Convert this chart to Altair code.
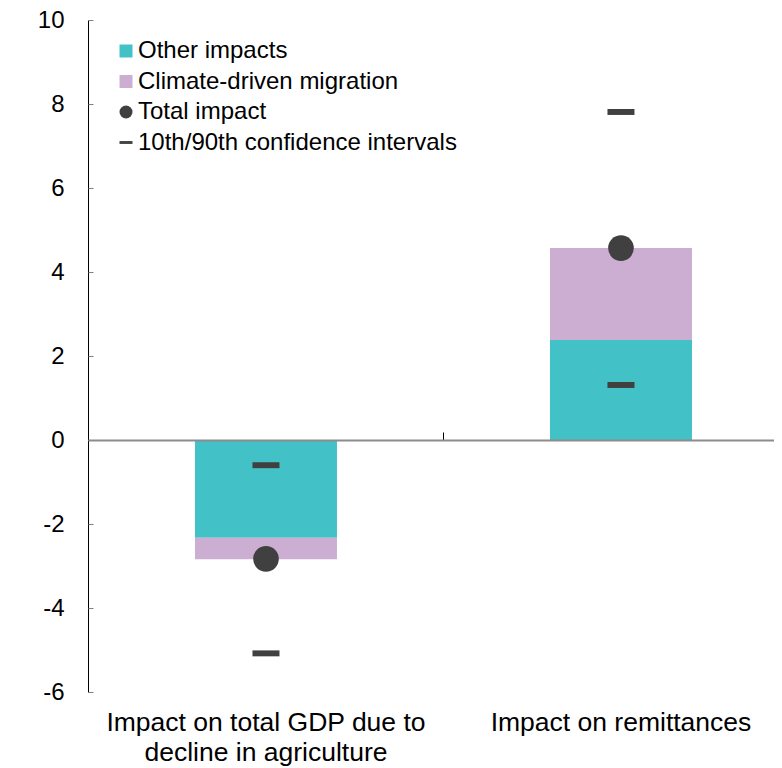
import altair as alt
import pandas as pd

# ---- data ----
categories = ["Impact on total GDP due to\ndecline in agriculture", "Impact on remittances"]
series_names = ["Other impacts", "Climate-driven migration", "Total impact",
                "10th/90th confidence intervals"]
series_colors = ["#42C1C6", "#CDAED3", "#404040", "#404040"]
other_impacts = [-2.33, 2.38]
climate_migration = [-0.51, 2.19]
total_impact = [-2.83, 4.57]
ci_low = [-5.08, 1.31]
ci_high = [-0.60, 7.81]
y_ticks = [-6, -4, -2, 0, 2, 4, 6, 8, 10]

DASH = "M-1,-0.22H1V0.22H-1Z"
series_shapes = ["square", "square", "circle", DASH]

bars = pd.DataFrame({
    "category": categories * 2,
    "series": [series_names[0]] * 2 + [series_names[1]] * 2,
    "value": other_impacts + climate_migration,
    "stack": [0, 0, 1, 1],
})
totals = pd.DataFrame({"category": categories, "series": series_names[2], "value": total_impact})
cis = pd.DataFrame({"category": categories * 2, "series": series_names[3],
                    "value": ci_low + ci_high})

FONT = "Liberation Sans"
W, H = 686, 672

x_scale = alt.Scale(domain=categories, paddingInner=0.6, paddingOuter=0.2662, align=0.566)
y_scale = alt.Scale(domain=[-6, 10], nice=False, zero=False)

legend = alt.Legend(title=None, orient="none", legendX=26, legendY=19, labelFontSize=24,
                    labelFont=FONT, labelColor="black", symbolSize=169, rowPadding=6.5,
                    labelOffset=0, padding=0, symbolStrokeWidth=0, symbolOpacity=1,
                    labelLimit=0)
color = alt.Color("series:N", scale=alt.Scale(domain=series_names, range=series_colors), legend=legend)
shape = alt.Shape("series:N", scale=alt.Scale(domain=series_names, range=series_shapes), legend=legend)

bar_layer = alt.Chart(bars).mark_bar().encode(
    x=alt.X("category:N", scale=x_scale, sort=categories,
            axis=alt.Axis(orient="bottom", title=None, domain=False, ticks=False, tickSize=0,
                          labelAngle=0, labelFontSize=26.5, labelFont=FONT, labelColor="black",
                          labelExpr="split(datum.label, '\\n')", labelLineHeight=30,
                          labelPadding=17, labelLimit=0)),
    y=alt.Y("value:Q", scale=y_scale, stack="zero",
            axis=alt.Axis(orient="left", values=y_ticks, title=None, domain=True,
                          domainColor="black", domainWidth=1, ticks=False, tickSize=0,
                          labelFontSize=24, labelFont=FONT, labelColor="black",
                          labelExpr="replace(datum.label, '\u2212', '-')",
                          labelPadding=24, grid=False)),
    color=color,
    order=alt.Order("stack:Q"),
)

total_layer = alt.Chart(totals).mark_point(filled=True, size=660, opacity=1).encode(
    x=alt.X("category:N", scale=x_scale, sort=categories, axis=None),
    y=alt.Y("value:Q", scale=y_scale,
            axis=alt.Axis(orient="right", offset=-W, values=y_ticks, title=None, labels=False,
                          domain=False, ticks=True, tickSize=5, tickColor="#808080",
                          grid=False)),
    color=color,
    shape=shape,
)

ci_layer = alt.Chart(cis).mark_point(filled=True, size=729, opacity=1).encode(
    x=alt.X("category:N", scale=x_scale, sort=categories,
            axis=alt.Axis(orient="top", offset=-420, title=None, labels=False, domain=True,
                          domainColor="#8C8C8C", domainWidth=2, ticks=True, tickColor="black",
                          tickSize=8, tickWidth=1, tickOffset=177.5, zindex=1)),
    y=alt.Y("value:Q", scale=y_scale, axis=None),
    color=color,
    shape=shape,
)

chart = alt.layer(bar_layer, total_layer, ci_layer).properties(
    width=W, height=H,
    autosize=alt.AutoSizeParams(type="none"),
    padding={"left": 80, "top": 12, "right": 0, "bottom": 76},
).configure_view(stroke=None).configure_axis(grid=False)

chart.save("out.html", embed_options={"renderer": "svg", "actions": False})
